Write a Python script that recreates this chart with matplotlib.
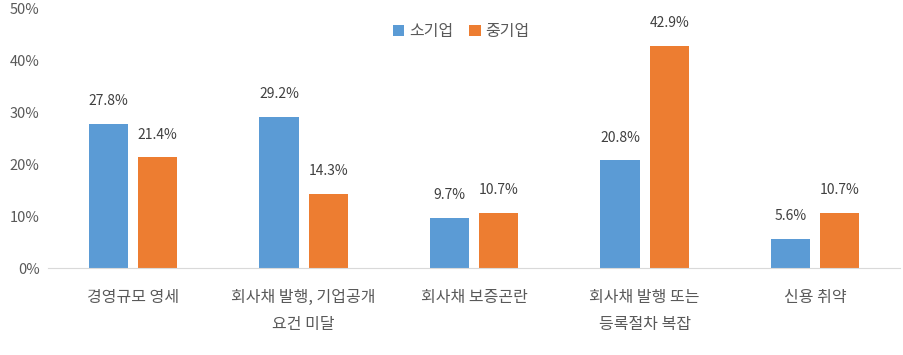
import matplotlib.pyplot as plt
import numpy as np

plt.rcParams['font.family'] = ['Noto Sans CJK KR', 'DejaVu Sans']

categories = ['경영규모 영세', '회사채 발행, 기업공개\n요건 미달', '회사채 보증곤란',
              '회사채 발행 또는\n등록절차 복잡', '신용 취약']
small = [27.8, 29.2, 9.7, 20.8, 5.6]
medium = [21.4, 14.3, 10.7, 42.9, 10.7]
series_names = ['소기업', '중기업']
colors = ['#5b9bd5', '#ed7d31']

fig = plt.figure(figsize=(9.04, 3.55), dpi=100)
ax = fig.add_axes([0.053, 0.245, 0.943, 0.73])

x = np.arange(len(categories))
w = 0.23
off = 0.144
b1 = ax.bar(x - off, small, w, color=colors[0], label=series_names[0])
b2 = ax.bar(x + off, medium, w, color=colors[1], label=series_names[1])

for bars, vals in ((b1, small), (b2, medium)):
    for rect, v in zip(bars, vals):
        ax.text(rect.get_x() + rect.get_width() / 2, v + 3.0, f'{v:.1f}%',
                ha='center', va='bottom', fontsize=10, color='#404040')

ax.set_xlim(-0.5, len(categories) - 0.5)
ax.set_ylim(0, 50)
ax.set_yticks(range(0, 51, 10))
ax.set_yticklabels([f'{t}%' for t in range(0, 51, 10)], fontsize=10.5)
ax.set_xticks(x)
ax.set_xticklabels(categories, linespacing=1.75, fontsize=11.5)
ax.tick_params(axis='both', length=0, colors='#595959')
ax.tick_params(axis='x', pad=15)
ax.tick_params(axis='y', pad=6)
for s in ['top', 'right', 'left']:
    ax.spines[s].set_visible(False)
ax.spines['bottom'].set_color('#d9d9d9')

leg = ax.legend(loc='upper center', bbox_to_anchor=(0.485, 1.0), ncol=2, frameon=False,
                fontsize=11.5, handlelength=0.7, handleheight=0.7, handletextpad=0.3,
                columnspacing=1.0)
for t in leg.get_texts():
    t.set_color('#595959')

fig.savefig('out.png', dpi=100)
